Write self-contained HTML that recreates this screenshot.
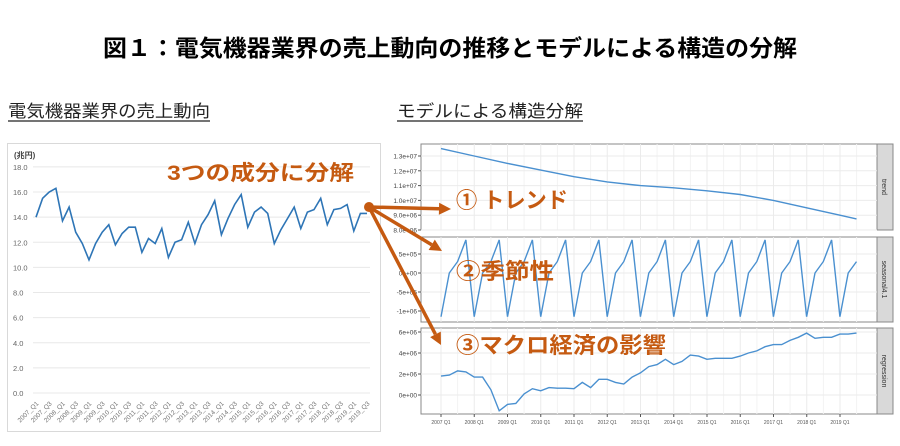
<!DOCTYPE html>
<html><head><meta charset="utf-8"><style>
html,body{margin:0;padding:0;background:#fff;}
svg{display:block;}
text{font-family:"Liberation Sans","Noto Sans CJK JP",sans-serif;}
</style></head><body>
<svg id="s" width="900" height="446" viewBox="0 0 900 446" xmlns="http://www.w3.org/2000/svg">
<text x="103" y="56" font-size="23" font-weight="bold" fill="#000" textLength="694" lengthAdjust="spacingAndGlyphs">図１：電気機器業界の売上動向の推移とモデルによる構造の分解</text>
<text x="8" y="117" font-size="17" fill="#222" textLength="202" lengthAdjust="spacingAndGlyphs">電気機器業界の売上動向</text>
<line x1="8" y1="121" x2="210" y2="121" stroke="#222" stroke-width="1.2"/>
<text x="397" y="117" font-size="17" fill="#222" textLength="186" lengthAdjust="spacingAndGlyphs">モデルによる構造分解</text>
<line x1="397" y1="121" x2="583" y2="121" stroke="#222" stroke-width="1.2"/>
<rect x="7.5" y="143.5" width="373" height="288" fill="#fff" stroke="#d9d9d9"/>
<g id="L"></g>
<g id="R"></g>
<g id="A"></g>
</svg>
<script>
var NS="http://www.w3.org/2000/svg";
function el(p,t,a,txt){var e=document.createElementNS(NS,t);for(var k in a)e.setAttribute(k,a[k]);if(txt!=null)e.textContent=txt;p.appendChild(e);return e;}
var L=document.getElementById('L'),R=document.getElementById('R'),A=document.getElementById('A');
// left chart
var v=[14.0,15.5,16.0,16.3,13.7,14.8,12.8,11.9,10.6,11.9,12.8,13.4,11.8,12.7,13.2,13.2,11.2,12.3,11.9,13.1,10.8,12.0,12.2,13.6,11.9,13.4,14.2,15.3,12.6,13.9,15.0,15.8,13.2,14.4,14.8,14.3,11.9,13.0,13.9,14.8,13.1,14.4,14.6,15.5,13.4,14.6,14.7,15.0,12.9,14.3,14.3];
function ly(val){return 393-val*12.56;}
function lx(i){return 36+i*6.62;}
el(L,'text',{x:14,y:158,'font-size':8,'font-weight':'bold',fill:'#444'},'(兆円)');
for(var t=0;t<=18;t+=2){var y=ly(t);el(L,'line',{x1:33,x2:370,y1:y,y2:y,stroke:'#e8e8e8','stroke-width':1});
el(L,'text',{x:13,y:y+3,'font-size':7.5,fill:'#666'},t.toFixed(1));}
var d='';v.forEach(function(a,i){d+=(i?'L':'M')+lx(i).toFixed(1)+' '+ly(a).toFixed(1);});
el(L,'path',{d:d,fill:'none',stroke:'#2e75b6','stroke-width':1.6});
for(var i=0;i<51;i+=2){var yr=2007+Math.floor(i/4),q=(i%4)+1;var x=lx(i)+3;
el(L,'text',{x:x,y:404,'font-size':6.5,fill:'#777','text-anchor':'end',transform:'rotate(-45 '+x+' 404)'},yr+'_Q'+q);}
// right panels
function qx(i){return 441+i*8.31;}
var panels=[[421,144,230,'trend'],[421,237,322,'seasonal4.1'],[421,328,414,'regression']];
panels.forEach(function(p){
 el(R,'rect',{x:p[0],y:p[1],width:456,height:p[2]-p[1],fill:'#fff',stroke:'#888'});
 for(var yr=0;yr<=12;yr++){var x=441+yr*33.25;el(R,'line',{x1:x,x2:x,y1:p[1],y2:p[2],stroke:'#ebebeb'});el(R,'line',{x1:x+16.6,x2:x+16.6,y1:p[1],y2:p[2],stroke:'#f3f3f3'});}
 el(R,'rect',{x:877,y:p[1],width:16,height:p[2]-p[1],fill:'#d9d9d9',stroke:'#888'});
 var cy=(p[1]+p[2])/2;el(R,'text',{x:882,y:cy,'font-size':7,fill:'#333','text-anchor':'middle',transform:'rotate(90 882 '+cy+')'},p[3]);
});
function ylab(y,s){el(R,'line',{x1:421,x2:877,y1:y,y2:y,stroke:'#ebebeb'});el(R,'line',{x1:418,x2:421,y1:y,y2:y,stroke:'#555'});el(R,'text',{x:417,y:y+2.5,'font-size':6.5,fill:'#444','text-anchor':'end'},s);}
// trend
[[13e6,'1.3e+07'],[12e6,'1.2e+07'],[11e6,'1.1e+07'],[10e6,'1.0e+07'],[9e6,'9.0e+06'],[8e6,'8.0e+06']].forEach(function(a){ylab(156+(13e6-a[0])/1e6*14.8,a[1]);});
var tk=[[0,13.5],[4,13.0],[8,12.5],[12,12.05],[16,11.6],[20,11.25],[24,11.0],[28,10.85],[32,10.65],[36,10.4],[40,10.0],[44,9.5],[48,9.0],[50,8.75]];
d='';tk.forEach(function(a,i){d+=(i?'L':'M')+qx(a[0]).toFixed(1)+' '+(156+(13-a[1])*14.8).toFixed(1);});
el(R,'path',{d:d,fill:'none',stroke:'#4a90d0','stroke-width':1.4});
// seasonal
[[5e5,'5e+05'],[0,'0e+00'],[-5e5,'-5e+05'],[-1e6,'-1e+06']].forEach(function(a){ylab(273-a[0]/1e6*38,a[1]);});
var sp=[-1.15,0,0.3,0.87];d='';
for(i=0;i<51;i++){d+=(i?'L':'M')+qx(i).toFixed(1)+' '+(273-sp[i%4]*38).toFixed(1);}
el(R,'path',{d:d,fill:'none',stroke:'#4a90d0','stroke-width':1.4});
// regression
[[6,'6e+06'],[4,'4e+06'],[2,'2e+06'],[0,'0e+00']].forEach(function(a){ylab(395-a[0]*10.5,a[1]);});
var rg=[1.8,1.9,2.3,2.2,1.7,1.7,0.5,-1.5,-0.9,-0.8,0.1,0.6,0.4,0.7,0.65,0.65,0.6,1.2,0.7,1.5,1.5,1.2,1.05,1.7,2.1,2.7,2.9,3.4,2.9,3.2,3.8,3.7,3.4,3.5,3.5,3.5,3.7,4.0,4.2,4.6,4.8,4.8,5.2,5.5,5.9,5.4,5.5,5.5,5.8,5.8,5.9];
d='';rg.forEach(function(a,i){d+=(i?'L':'M')+qx(i).toFixed(1)+' '+(395-a*10.5).toFixed(1);});
el(R,'path',{d:d,fill:'none',stroke:'#4a90d0','stroke-width':1.4});
for(var yr=0;yr<=12;yr++){var x=441+yr*33.25;el(R,'line',{x1:x,x2:x,y1:414,y2:417,stroke:'#555'});
el(R,'text',{x:x,y:424,'font-size':5,fill:'#555','text-anchor':'middle'},(2007+yr)+' Q1');}
// annotations
var oc='#c55a11';
el(A,'text',{x:167,y:180,'font-size':21,'font-weight':'bold',fill:oc,textLength:187,lengthAdjust:'spacingAndGlyphs'},'3つの成分に分解');
el(A,'circle',{cx:369,cy:207,r:5,fill:oc});
function arrow(x2,y2){var x1=369,y1=207,dx=x2-x1,dy=y2-y1,l=Math.sqrt(dx*dx+dy*dy),ux=dx/l,uy=dy/l,bx=x2-ux*12,by=y2-uy*12;
el(A,'line',{x1:x1,y1:y1,x2:bx,y2:by,stroke:oc,'stroke-width':3.5});
el(A,'polygon',{points:x2+','+y2+' '+(bx-uy*6)+','+(by+ux*6)+' '+(bx+uy*6)+','+(by-ux*6),fill:oc});}
arrow(451,209);arrow(442,251);arrow(441,345);
el(A,'text',{x:456,y:208,'font-size':22,'font-weight':'bold',fill:oc,textLength:112,lengthAdjust:'spacingAndGlyphs'},'① トレンド');
el(A,'text',{x:456,y:279,'font-size':22,'font-weight':'bold',fill:oc,textLength:98,lengthAdjust:'spacingAndGlyphs'},'②季節性');
el(A,'text',{x:456,y:353,'font-size':22,'font-weight':'bold',fill:oc,textLength:210,lengthAdjust:'spacingAndGlyphs'},'③マクロ経済の影響');
</script>
</body></html>
